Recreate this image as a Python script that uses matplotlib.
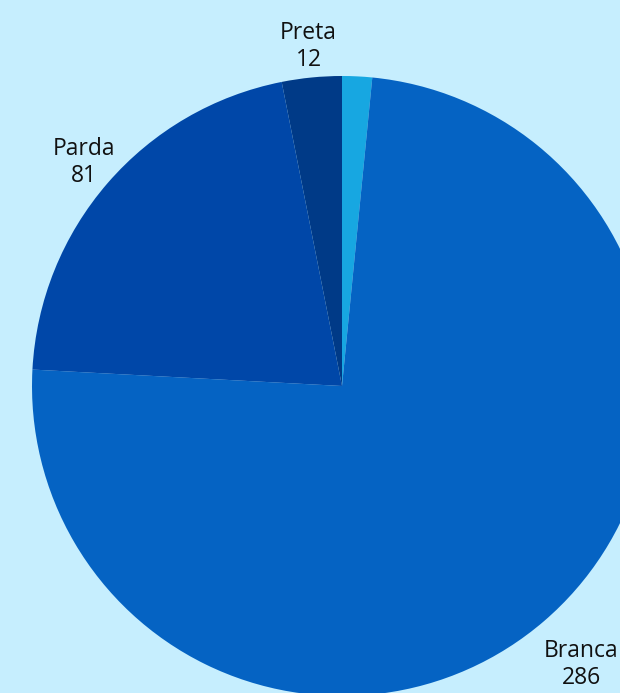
import numpy as np
import matplotlib.pyplot as plt

# dados do gráfico
categorias = ["Amarela", "Branca", "Parda", "Preta"]
valores = [6, 286, 81, 12]
rotulos = ["", "Branca\n286", "Parda\n81", "Preta\n12"]
cores = ["#17A7E1", "#0563C3", "#0047A8", "#003A87"]
dist_rotulo = [1.12, 1.185, 1.10, 1.10]

fundo = "#C6EEFE"
plt.rcParams['font.family'] = ['Open Sans', 'DejaVu Sans']

fig = plt.figure(figsize=(6.2, 6.93), dpi=100, facecolor=fundo)
# eixo posicionado para o círculo ultrapassar a borda direita/inferior
ax = fig.add_axes([32 / 620, -3 / 693, 620 / 620, 620 / 693])
ax.set_facecolor(fundo)

wedges, texts = ax.pie(valores, labels=rotulos, colors=cores, startangle=90,
                       counterclock=False, labeldistance=1.12,
                       wedgeprops=dict(linewidth=0))
for w, t, d in zip(wedges, texts, dist_rotulo):
    ang = np.deg2rad((w.theta1 + w.theta2) / 2)
    t.set_position((d * np.cos(ang), d * np.sin(ang)))
    t.set_horizontalalignment('center')
    t.set_verticalalignment('center')
    t.set_multialignment('center')
    t.set_fontsize(16.5)
    t.set_color('#111111')
    t.set_linespacing(1.2)

ax.set_xlim(-1, 1)
ax.set_ylim(-1, 1)
ax.set_aspect('equal')
ax.axis('off')

fig.savefig("out.png", dpi=100, facecolor=fundo)
